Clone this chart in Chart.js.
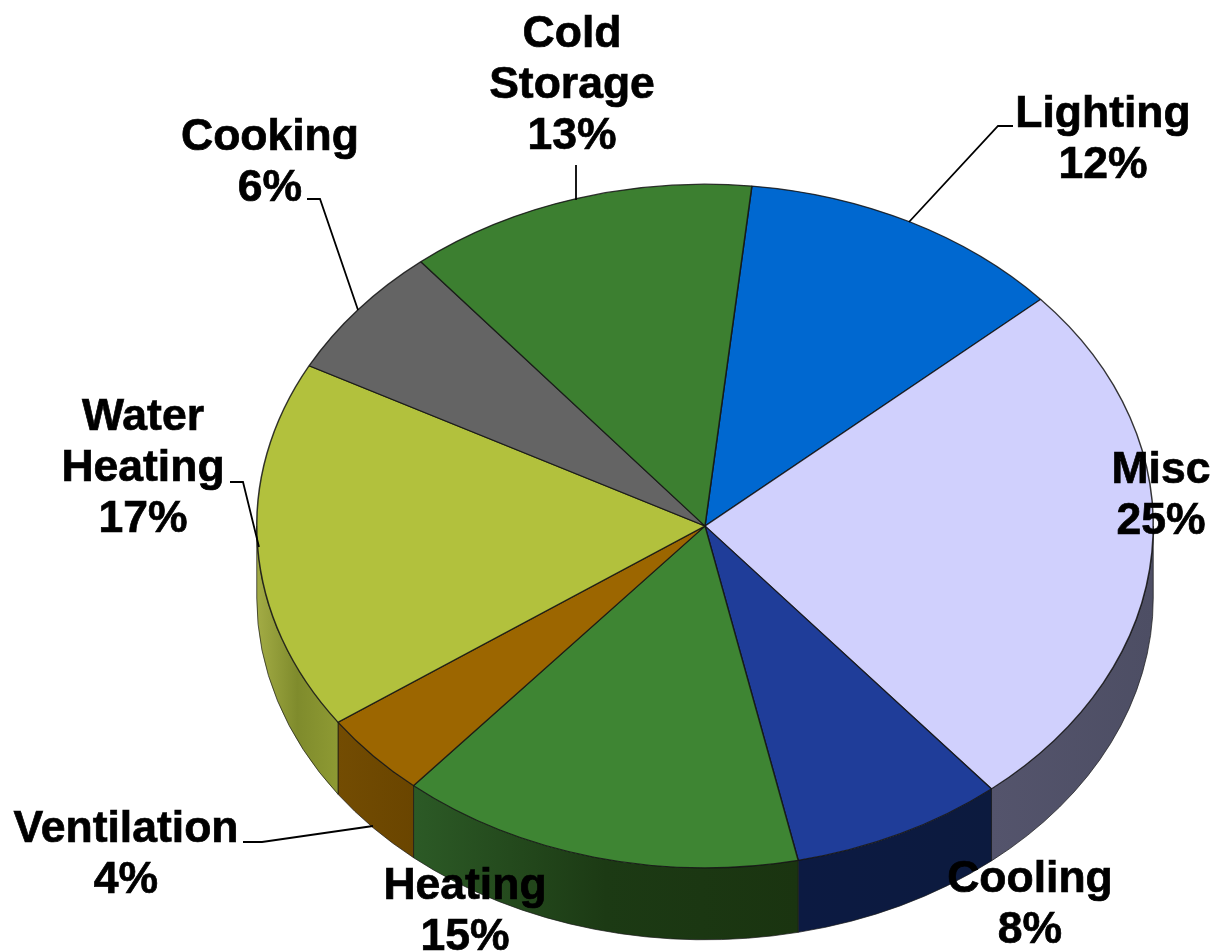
<!DOCTYPE html>
<html>
<head>
<meta charset="utf-8">
<style>
  html, body { margin: 0; padding: 0; background: #fff; }
  #box { width: 1214px; height: 952px; }
  canvas { display: block; }
</style>
</head>
<body>
<div id="box"><canvas id="chartPie" width="1214" height="952"></canvas></div>
<script src="https://cdn.jsdelivr.net/npm/chart.js@4/dist/chart.umd.min.js"></script>
<script>
// slice sizes (percent), the printed labels are rounded
var categories = ["Lighting", "Misc", "Cooling", "Heating", "Ventilation", "Water Heating", "Cooking", "Cold Storage"];
var shares = [11.8, 25.5, 7.7, 14.6, 4.0, 17.5, 6.3, 12.6];
var shareLabels = ["12%", "25%", "8%", "15%", "4%", "17%", "6%", "13%"];

var topColors = ["#0068d0", "#d0d0fd", "#1f3d99", "#3e8533", "#9c6600", "#b2c13d", "#646464", "#3c7f30"];
// side wall gradient, left to right
var wallColors = [
  ["#003a78", "#003a78"],
  ["#54546c", "#4d4e64"],
  ["#0c1a42", "#0c1a3e"],
  ["#2c5a26", "#1c3a14", "#1a3410"],
  ["#734c02", "#6a4500"],
  ["#a3ac45", "#7f8b2c", "#8e9a33"],
  ["#3c3c3c", "#3c3c3c"],
  ["#1f4a18", "#1f4a18"]
];

// label text lines, centre x, first baseline
var labelLines = [["Lighting"], ["Misc"], ["Cooling"], ["Heating"], ["Ventilation"], ["Water", "Heating"], ["Cooking"], ["Cold", "Storage"]];
var labelX = [1103, 1161, 1030, 465, 126, 143, 270, 572];
var labelY = [127, 483, 892, 899, 842, 430, 150, 47];
var lineGap = 51;

var leaders = [
  [[1013, 126], [998, 126], [909, 222]],
  [[576, 165], [576, 200]],
  [[307, 199], [320, 199], [358, 310]],
  [[230, 482], [243, 482], [259, 547]],
  [[243, 842], [262, 842], [373, 826]]
];

var tilt = 0.7625;   // ellipse height / width
var depth = 72;      // wall height
var centreY = 526;   // where the tilted pie sits

var tiltPlugin = {
  id: 'tilt',
  beforeDatasetsDraw: function(chart) {
    var ctx = chart.ctx;
    var arcs = chart.getDatasetMeta(0).data;
    var cx = arcs[0].x, r = arcs[0].outerRadius, ry = r * tilt;

    arcs.forEach(function(arc, i) {
      var a = arc.startAngle, b = arc.endAngle;
      // keep only the part of the slice that faces the viewer (0..PI on canvas)
      var two = Math.PI * 2;
      a = ((a % two) + two) % two;
      b = a + (arc.endAngle - arc.startAngle);
      if (a > Math.PI) { a -= two; b -= two; }
      var from = Math.max(a, 0), to = Math.min(b, Math.PI);
      if (to <= from) return;

      var x1 = cx + r * Math.cos(to), x2 = cx + r * Math.cos(from);
      var grad = ctx.createLinearGradient(x1, 0, x2, 0);
      wallColors[i].forEach(function(c, k) { grad.addColorStop(k / (wallColors[i].length - 1), c); });

      ctx.beginPath();
      ctx.ellipse(cx, centreY, r, ry, 0, from, to);
      ctx.ellipse(cx, centreY + depth, r, ry, 0, to, from, true);
      ctx.closePath();
      ctx.fillStyle = grad;
      ctx.fill();
      ctx.lineWidth = 1;
      ctx.strokeStyle = 'rgba(25,25,25,0.7)';
      ctx.stroke();
    });

    ctx.save();
    ctx.translate(cx, centreY);
    ctx.scale(1, tilt);
    ctx.translate(-cx, -arcs[0].y);
  },
  afterDatasetsDraw: function(chart) {
    chart.ctx.restore();
  },
  afterDraw: function(chart) {
    var ctx = chart.ctx;
    ctx.save();
    ctx.strokeStyle = '#000';
    ctx.lineWidth = 1.8;
    leaders.forEach(function(pts) {
      ctx.beginPath();
      pts.forEach(function(p, k) { k ? ctx.lineTo(p[0], p[1]) : ctx.moveTo(p[0], p[1]); });
      ctx.stroke();
    });
    ctx.fillStyle = '#000';
    ctx.lineWidth = 0.7;
    ctx.font = 'bold 44.5px "Liberation Sans", Arial, sans-serif';
    ctx.textAlign = 'center';
    ctx.textBaseline = 'alphabetic';
    categories.forEach(function(name, i) {
      var lines = labelLines[i].concat(shareLabels[i]);
      lines.forEach(function(t, k) {
        ctx.fillText(t, labelX[i], labelY[i] + k * lineGap);
        ctx.strokeText(t, labelX[i], labelY[i] + k * lineGap);
      });
    });
    ctx.restore();
  }
};

var chartPie = new Chart(document.getElementById('chartPie'), {
  type: 'pie',
  data: {
    labels: categories,
    datasets: [{
      data: shares,
      backgroundColor: topColors,
      borderColor: 'rgba(20,20,20,0.85)',
      borderWidth: 1.5,
      hoverOffset: 0
    }]
  },
  options: {
    responsive: false,
    animation: false,
    rotation: 6,
    layout: { padding: { left: 256, right: 60, top: 27, bottom: 27 } },
    plugins: { legend: { display: false }, tooltip: { enabled: false } }
  },
  plugins: [tiltPlugin]
});
</script>
</body>
</html>
